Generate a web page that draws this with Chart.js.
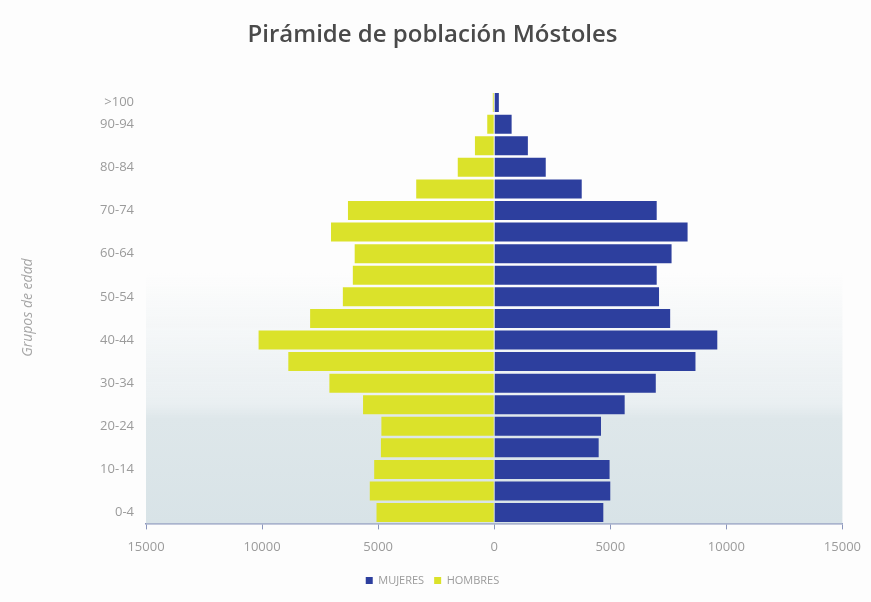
<!DOCTYPE html>
<html>
<head>
<meta charset="utf-8">
<script src="https://cdn.jsdelivr.net/npm/chart.js@4/dist/chart.umd.min.js"></script>
<style>
  html, body { margin: 0; padding: 0; background: #fdfdfd; }
  #wrap { width: 871px; height: 602px; position: relative; }
</style>
</head>
<body>
<div id="wrap"><canvas id="piramide"></canvas></div>
<script>
// grupos de edad, de abajo (0-4) hacia arriba
var grupos = ['0-4', '5-9', '10-14', '15-19', '20-24', '25-29', '30-34', '35-39', '40-44', '45-49',
              '50-54', '55-59', '60-64', '65-69', '70-74', '75-79', '80-84', '85-89', '90-94', '>100'];

var mujeres = [4700, 5000, 4970, 4500, 4600, 5620, 6960, 8670, 9610, 7580,
               7100, 7000, 7640, 8330, 7000, 3770, 2220, 1450, 750, 200];

// hombres van a la izquierda, en negativo
var hombres = [-5070, -5360, -5170, -4880, -4860, -5650, -7100, -8870, -10150, -7930,
               -6520, -6090, -6010, -7030, -6300, -3360, -1570, -830, -300, -60];

var ticksX = [-15000, -10000, -5000, 0, 5000, 10000, 15000];

var colorMujeres = '#2d3f9e';
var colorHombres = '#dbe22a';

// fondo claro con la silueta de la ciudad en la parte baja
var fondo = {
    id: 'fondo',
    beforeDatasetsDraw: function (chart) {
        var ctx = chart.ctx, a = chart.chartArea;
        var h = a.bottom - a.top;
        var y0 = a.top + h * 0.42;
        ctx.save();
        var g = ctx.createLinearGradient(0, y0, 0, a.bottom);
        g.addColorStop(0, 'rgba(230,237,240,0)');
        g.addColorStop(0.52, 'rgba(228,235,238,0.8)');
        g.addColorStop(0.58, 'rgba(222,231,234,1)');
        g.addColorStop(1, 'rgba(216,227,231,1)');
        ctx.fillStyle = g;
        ctx.fillRect(a.left, y0, a.right - a.left, a.bottom - y0);
        ctx.restore();
    }
};

new Chart(document.getElementById('piramide'), {
    type: 'bar',
    data: {
        labels: grupos,
        datasets: [
            { label: 'MUJERES', data: mujeres, backgroundColor: colorMujeres,
              barPercentage: 0.88, categoryPercentage: 1 },
            { label: 'HOMBRES', data: hombres, backgroundColor: colorHombres,
              barPercentage: 0.88, categoryPercentage: 1 }
        ]
    },
    plugins: [fondo],
    options: {
        indexAxis: 'y',
        responsive: true,
        maintainAspectRatio: false,
        animation: false,
        layout: { padding: { left: 14, right: 20, top: 0, bottom: 6 } },
        scales: {
            x: {
                stacked: true,
                min: -15000,
                max: 15000,
                afterBuildTicks: function (axis) {
                    axis.ticks = ticksX.map(function (v) { return { value: v }; });
                },
                grid: { display: true, drawOnChartArea: false, tickLength: 6, color: '#8a95bb' },
                border: { display: true, color: '#8a95bb', width: 1.5 },
                ticks: {
                    color: '#9b9b9b',
                    font: { family: 'Open Sans', size: 13 },
                    padding: 10,
                    callback: function (v) { return Math.abs(v); }
                }
            },
            y: {
                stacked: true,
                reverse: true,
                afterFit: function (axis) { axis.width = 132; },
                grid: { display: false },
                border: { display: false },
                ticks: {
                    autoSkip: false,
                    color: '#9b9b9b',
                    font: { family: 'Open Sans', size: 13 },
                    padding: 4,
                    callback: function (v, i) {
                        return (i % 2 === 0 || i === grupos.length - 1) ? grupos[i] : '';
                    }
                },
                title: {
                    display: true,
                    text: 'Grupos de edad',
                    color: '#a5a5a5',
                    font: { family: 'Open Sans', size: 14, style: 'italic' },
                    padding: { top: 6, bottom: 0 }
                }
            }
        },
        plugins: {
            title: {
                display: true,
                text: 'Pirámide de población Móstoles',
                color: '#4a4a4a',
                font: { family: 'Open Sans', size: 24, weight: '600' },
                padding: { top: 21, bottom: 42 }
            },
            legend: {
                position: 'bottom',
                labels: {
                    boxWidth: 7,
                    boxHeight: 7,
                    color: '#9b9b9b',
                    font: { family: 'Open Sans', size: 11 },
                    padding: 10
                }
            },
            tooltip: { enabled: false }
        }
    }
});
</script>
</body>
</html>
